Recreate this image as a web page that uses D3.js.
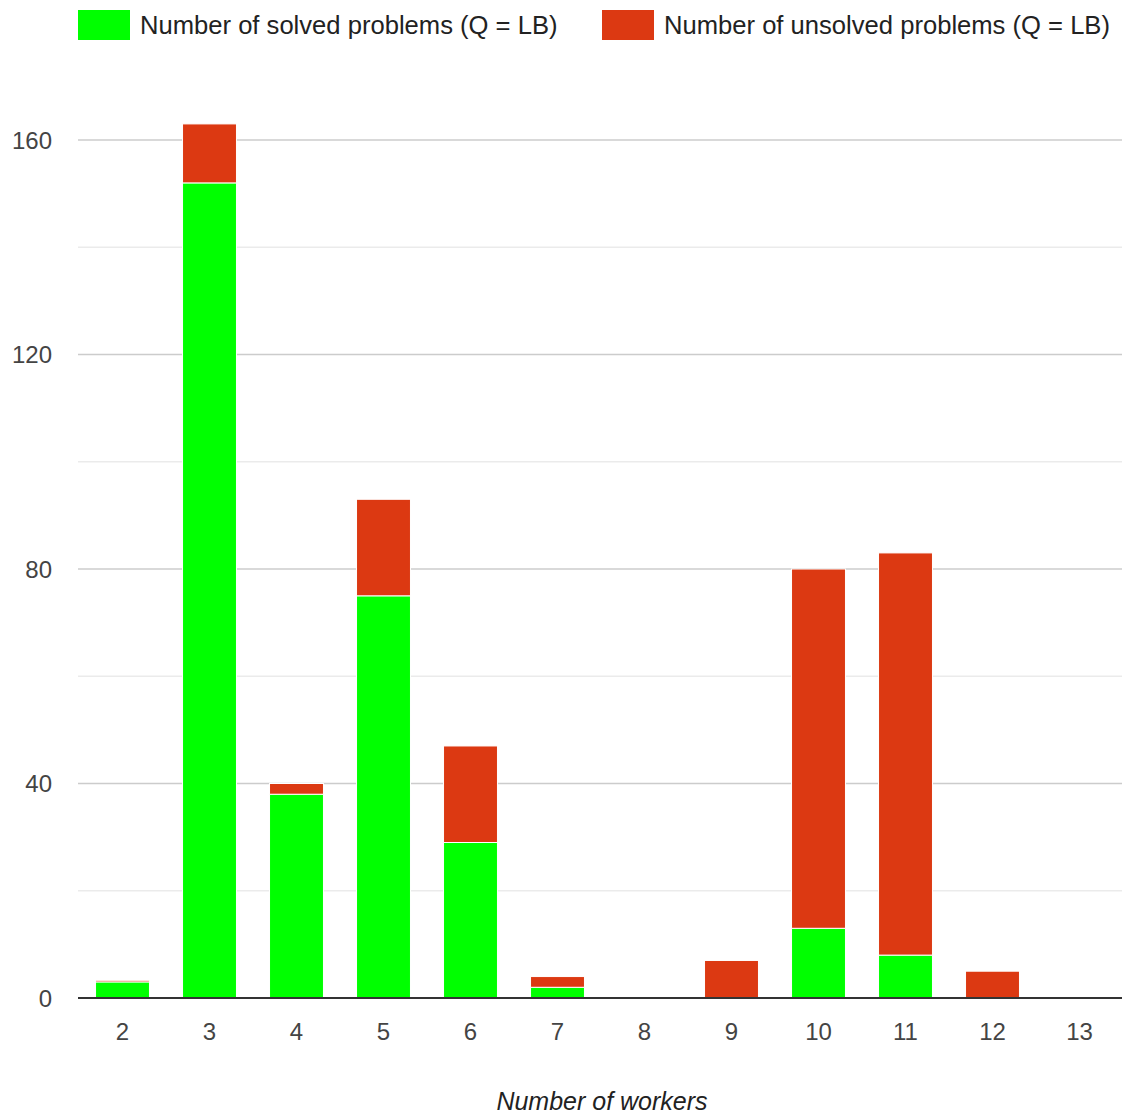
<!DOCTYPE html>
<html>
<head>
<meta charset="utf-8">
<script src="https://cdn.jsdelivr.net/npm/d3@7"></script>
<style>
  body { margin: 0; background: #fff; }
  text { font-family: "Liberation Sans", Arial, sans-serif; }
</style>
</head>
<body>
<svg id="chart" width="1122" height="1114"></svg>
<script>
'use strict';

// chart data
var workers = ['2', '3', '4', '5', '6', '7', '8', '9', '10', '11', '12', '13'];
var solved = [3, 152, 38, 75, 29, 2, 0, 0, 13, 8, 0, 0];
var unsolved = [0.3, 11, 2, 18, 18, 2, 0, 7, 67, 75, 5, 0];
var seriesNames = ['Number of solved problems (Q = LB)', 'Number of unsolved problems (Q = LB)'];
var majorTicks = [0, 40, 80, 120, 160];
var minorTicks = [20, 60, 100, 140];

var colors = ['#00ff00', '#dc3912'];

var svg = d3.select('#chart');
var plotLeft = 79, plotRight = 1123, plotBottom = 998, plotTop = 140;

var x = d3.scaleBand().domain(workers).range([plotLeft, plotRight]).paddingInner(0.38).paddingOuter(0.19);
var y = d3.scaleLinear().domain([0, 160]).range([plotBottom, plotTop]);

// gridlines
svg.append('g').selectAll('line')
    .data(minorTicks)
    .enter().append('line')
        .attr('x1', 78).attr('x2', 1122)
        .attr('y1', d => y(d)).attr('y2', d => y(d))
        .attr('stroke', '#ebebeb').attr('stroke-width', 1.5);

svg.append('g').selectAll('line')
    .data(majorTicks.filter(d => d > 0))
    .enter().append('line')
        .attr('x1', 78).attr('x2', 1122)
        .attr('y1', d => y(d)).attr('y2', d => y(d))
        .attr('stroke', '#cccccc').attr('stroke-width', 1.5);

// y labels
svg.append('g').selectAll('text')
    .data(majorTicks)
    .enter().append('text')
        .attr('x', 52).attr('y', d => y(d))
        .attr('dy', '0.36em')
        .attr('text-anchor', 'end')
        .attr('font-size', 24)
        .attr('fill', '#444')
        .text(d => d);

// stacked bars
var rows = workers.map((w, i) => ({ w: w, solved: solved[i], unsolved: unsolved[i] }));
var stack = d3.stack().keys(['solved', 'unsolved'])(rows);

svg.append('g').selectAll('g')
    .data(stack)
    .enter().append('g')
        .attr('fill', (d, i) => colors[i])
    .selectAll('rect')
    .data(d => d.filter(s => s[1] - s[0] > 0))
    .enter().append('rect')
        .attr('x', d => x(d.data.w))
        .attr('width', x.bandwidth())
        .attr('y', d => y(d[1]))
        .attr('height', d => y(d[0]) - y(d[1]))
        .attr('stroke', '#fff')
        .attr('stroke-width', 1);

// baseline
svg.append('line')
    .attr('x1', 78).attr('x2', 1122)
    .attr('y1', y(0)).attr('y2', y(0))
    .attr('stroke', '#333').attr('stroke-width', 2);

// x labels
var xAxis = d3.axisBottom(x).tickSize(0).tickPadding(0);
var gx = svg.append('g').attr('transform', 'translate(0,' + (plotBottom + 42) + ')').call(xAxis);
gx.select('.domain').remove();
gx.selectAll('text')
    .attr('font-size', 24)
    .attr('fill', '#444')
    .attr('dy', 0)
    .attr('font-family', '"Liberation Sans", Arial, sans-serif');

svg.append('text')
    .attr('x', 602).attr('y', 1110)
    .attr('text-anchor', 'middle')
    .attr('font-size', 25)
    .attr('font-style', 'italic')
    .attr('fill', '#222')
    .text('Number of workers');

// legend
var legendX = [78, 602];
var legend = svg.append('g').selectAll('g')
    .data(seriesNames)
    .enter().append('g')
        .attr('transform', (d, i) => 'translate(' + legendX[i] + ',10)');
legend.append('rect')
    .attr('width', 52).attr('height', 30)
    .attr('fill', (d, i) => colors[i]);
legend.append('text')
    .attr('x', 62).attr('y', 15)
    .attr('dy', '0.36em')
    .attr('font-size', 25.6)
    .attr('fill', '#222')
    .text(d => d);
</script>
</body>
</html>
